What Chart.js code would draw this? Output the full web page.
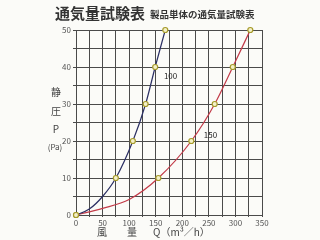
<!DOCTYPE html>
<html>
<head>
<meta charset="utf-8">
<script src="https://cdn.jsdelivr.net/npm/chart.js@4/dist/chart.umd.min.js"></script>
<style>
  html, body { margin: 0; padding: 0; background: #fbfbf8; }
  #wrap { width: 320px; height: 240px; }
</style>
</head>
<body>
<div id="wrap"><canvas id="graph" width="320" height="240"></canvas></div>
<script>
// airflow Q (m3/h) vs static pressure P (Pa)
// measured points (marked with circles)
const pressure = [0, 10, 20, 30, 40, 50];
const flow100 = [0, 75, 107, 131, 149, 168];
const flow150 = [0, 155, 217, 261, 295, 328];
// curve traces, incl. the bend near the origin
const curve100Q = [0, 25, 50, 75, 107, 131, 149, 168];
const curve100P = [0, 1.6, 5, 10, 20, 30, 40, 50];
const curve150Q = [0, 50, 100, 155, 217, 261, 295, 328];
const curve150P = [0, 1.8, 4.2, 10, 20, 30, 40, 50];
const seriesNames = ["100", "150"];
const yTicks = [0, 10, 20, 30, 40, 50];
const xTicks = [0, 50, 100, 150, 200, 250, 300, 350];

const FONT = "'Noto Sans CJK JP', 'Noto Sans', sans-serif";

function pts(xs, ys) {
  return xs.map((x, i) => ({ x: x, y: ys[i] }));
}

const textPlugin = {
  id: "texts",
  beforeDraw(chart) {
    const c = chart.ctx;
    c.save();
    c.fillStyle = "#fbfbf8";
    c.fillRect(0, 0, chart.width, chart.height);
    c.restore();
  },
  afterDraw(chart) {
    const c = chart.ctx;
    const xs = chart.scales.x, ys = chart.scales.y;
    c.save();
    c.fillStyle = "#333";
    c.textBaseline = "alphabetic";
    c.textAlign = "left";
    c.font = "bold 15px " + FONT;
    c.fillText("通気量試験表", 55, 19);
    c.font = "bold 9.5px " + FONT;
    c.fillText("製品単体の通気量試験表", 150, 18);

    // y title, stacked
    c.font = "10px " + FONT;
    c.textAlign = "center";
    c.textBaseline = "middle";
    c.fillStyle = "#444";
    c.fillText("静", 56, 92);
    c.fillText("圧", 56, 111);
    c.fillText("P", 56, 129);
    c.font = "8px " + FONT;
    c.fillText("(Pa)", 55, 147);

    // x title
    c.font = "10px " + FONT;
    c.textAlign = "left";
    c.fillText("風", 97, 232);
    c.fillText("量", 127, 232);
    c.fillText("Q（m³／h）", 153, 232);

    // series labels
    c.font = "8px " + FONT;
    c.fillStyle = "#222";
    c.textAlign = "center";
    c.fillText(seriesNames[0], xs.getPixelForValue(178), ys.getPixelForValue(37.5));
    c.fillText(seriesNames[1], xs.getPixelForValue(253), ys.getPixelForValue(21.5));
    c.restore();
  }
};

const marker = {
  showLine: false,
  order: 0,
  clip: false,
  pointRadius: 2.5,
  pointBackgroundColor: "#f4f0c8",
  pointBorderColor: "#a59a2a",
  pointBorderWidth: 1.2,
};

new Chart(document.getElementById("graph").getContext("2d"), {
  type: "scatter",
  data: {
    datasets: [
      {
        label: seriesNames[0] + " curve",
        data: pts(curve100Q, curve100P),
        order: 1,
        showLine: true,
        pointRadius: 0,
        borderColor: "#2b2f63",
        borderWidth: 1.2,
        cubicInterpolationMode: "monotone",
      },
      {
        label: seriesNames[1] + " curve",
        data: pts(curve150Q, curve150P),
        order: 1,
        showLine: true,
        pointRadius: 0,
        borderColor: "#c23a48",
        borderWidth: 1.2,
        cubicInterpolationMode: "monotone",
      },
      Object.assign({ label: seriesNames[0], data: pts(flow100, pressure) }, marker),
      Object.assign({ label: seriesNames[1], data: pts(flow150, pressure) }, marker),
    ],
  },
  options: {
    responsive: false,
    animation: false,
    devicePixelRatio: 1,
    layout: { padding: { left: 0, right: 58, top: 30, bottom: 0 } },
    plugins: { legend: { display: false }, tooltip: { enabled: false } },
    scales: {
      x: {
        type: "linear",
        min: 0,
        max: 350,
        afterFit(s) { s.height = 25; },
        ticks: {
          stepSize: 25,
          autoSkip: false,
          maxRotation: 0,
          padding: 1,
          color: "#555",
          font: { family: FONT, size: 8 },
          callback: (v) => (xTicks.includes(v) ? String(v) : ""),
        },
        grid: { color: "#4a4a4a", lineWidth: 1, tickLength: 2 },
        border: { color: "#4a4a4a" },
      },
      y: {
        min: 0,
        max: 50,
        afterFit(s) { s.width = 76; },
        ticks: {
          stepSize: 5,
          autoSkip: false,
          padding: 2,
          color: "#555",
          font: { family: FONT, size: 8 },
          callback: (v) => (yTicks.includes(v) ? String(v) : ""),
        },
        grid: { color: "#4a4a4a", lineWidth: 1, tickLength: 3 },
        border: { color: "#4a4a4a" },
      },
    },
  },
  plugins: [textPlugin],
});
</script>
</body>
</html>
